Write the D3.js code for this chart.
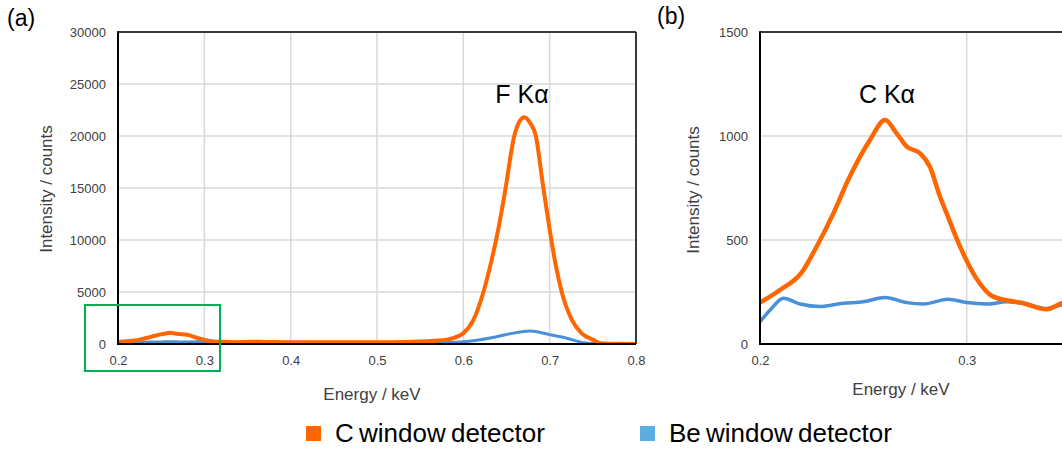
<!DOCTYPE html>
<html>
<head>
<meta charset="utf-8">
<script src="https://cdn.jsdelivr.net/npm/d3@7/dist/d3.min.js"></script>
<style>
  html, body { margin: 0; padding: 0; background: #fff; }
  svg { display: block; font-family: "Liberation Sans", Arial, sans-serif; }
</style>
</head>
<body>
<svg id="chart" width="1062" height="450"></svg>
<script>
// ---- Data ----
const cEnergy = [0.200, 0.210, 0.220, 0.2275, 0.2355, 0.2427, 0.2532, 0.2605, 0.2661, 0.2710, 0.2774, 0.2822, 0.2871, 0.2903, 0.2968, 0.3032, 0.3129, 0.3274, 0.3387, 0.346, 0.355, 0.370, 0.400, 0.430, 0.460, 0.500, 0.530, 0.550, 0.570, 0.581, 0.590, 0.600, 0.6117, 0.6233, 0.6320, 0.6407, 0.6484, 0.6590, 0.6650, 0.6708, 0.6770, 0.6840, 0.6920, 0.7000, 0.7070, 0.7140, 0.7257, 0.7370, 0.7510, 0.7585, 0.770, 0.800];
const cCounts  = [199, 262, 342, 470, 628, 790, 981, 1077, 1013, 949, 917, 852, 708, 628, 468, 340, 228, 196, 167, 196, 215, 200, 170, 175, 160, 165, 190, 240, 330, 420, 620, 1030, 2310, 5000, 7800, 11120, 14700, 20000, 21400, 21800, 21300, 20000, 15400, 11000, 7600, 5000, 2310, 1030, 385, 70, 20, 10];

const beEnergy = [0.200, 0.2056, 0.2113, 0.2194, 0.229, 0.2403, 0.250, 0.2605, 0.271, 0.279, 0.2911, 0.300, 0.3097, 0.3194, 0.329, 0.3387, 0.346, 0.360, 0.400, 0.450, 0.500, 0.550, 0.585, 0.6117, 0.6387, 0.655, 0.6774, 0.700, 0.720, 0.739, 0.750, 0.800];
const beCounts  = [107, 171, 220, 192, 180, 196, 203, 224, 199, 192, 215, 199, 192, 203, 192, 171, 187, 190, 160, 140, 120, 110, 150, 320, 700, 1000, 1250, 900, 550, 130, 50, 20];

const xTicksA = [0.2, 0.3, 0.4, 0.5, 0.6, 0.7, 0.8];
const yTicksA = [0, 5000, 10000, 15000, 20000, 25000, 30000];
const xTicksB = [0.2, 0.3, 0.4];
const yTicksB = [0, 500, 1000, 1500];

const seriesNames = ["C window detector", "Be window detector"];
const lineColors = ["#ff6600", "#4a90d9"];
const legendColors = ["#ff6600", "#5dade2"];

// ---- Drawing ----
const W = 1062;
const svg = d3.select("#chart");
svg.append("rect").attr("width", W).attr("height", 450).attr("fill", "#fff");

function panel(opts) {
  const { x, y, xTicks, yTicks, id, titleX, titleY, xTitleX, xTitleY, lw } = opts;
  const g = svg.append("g");
  const [x0, x1] = x.range();
  const [y0, y1] = y.range(); // y0 bottom, y1 top

  g.append("clipPath").attr("id", id).append("rect")
    .attr("x", x0).attr("y", y1).attr("width", x1 - x0).attr("height", y0 - y1);

  // grid
  g.append("g").selectAll("line").data(xTicks.slice(1)).join("line")
    .attr("x1", d => x(d)).attr("x2", d => x(d)).attr("y1", y1).attr("y2", y0)
    .attr("stroke", "#d9d9d9").attr("stroke-width", 1.5);
  g.append("g").selectAll("line").data(yTicks.slice(1)).join("line")
    .attr("x1", x0).attr("x2", x1).attr("y1", d => y(d)).attr("y2", d => y(d))
    .attr("stroke", "#d9d9d9").attr("stroke-width", 1.5);

  // axes tick labels (only those inside the picture)
  const visibleX = xTicks.filter(d => x(d) < W - 10);
  const ax = g.append("g").attr("transform", `translate(0,${y0})`)
    .call(d3.axisBottom(x).tickValues(visibleX).tickFormat(d3.format(".1f")).tickSize(0).tickPadding(12));
  const ay = g.append("g").attr("transform", `translate(${x0},0)`)
    .call(d3.axisLeft(y).tickValues(yTicks).tickFormat(d3.format("d")).tickSize(0).tickPadding(12));
  [ax, ay].forEach(a => {
    a.select(".domain").remove();
    a.selectAll("text").attr("font-size", 13).attr("fill", "#404040")
      .attr("font-family", "'Liberation Sans', Arial, sans-serif");
  });

  // lines
  const lines = g.append("g").attr("clip-path", `url(#${id})`);
  const mk = (E, C) => d3.line().x((d, i) => x(E[i])).y((d, i) => y(C[i])).curve(d3.curveMonotoneX)(C);
  lines.append("path").attr("d", mk(beEnergy, beCounts)).attr("fill", "none")
    .attr("stroke", lineColors[1]).attr("stroke-width", lw[1]).attr("stroke-linejoin", "round");
  lines.append("path").attr("d", mk(cEnergy, cCounts)).attr("fill", "none")
    .attr("stroke", lineColors[0]).attr("stroke-width", lw[0]).attr("stroke-linejoin", "round");

  // frame
  g.append("line").attr("x1", x0).attr("x2", x1).attr("y1", y1).attr("y2", y1)
    .attr("stroke", "#000").attr("stroke-width", 1.5);
  g.append("line").attr("x1", x1).attr("x2", x1).attr("y1", y1).attr("y2", y0)
    .attr("stroke", "#000").attr("stroke-width", 1.5);
  g.append("line").attr("x1", x0).attr("x2", x1).attr("y1", y0).attr("y2", y0)
    .attr("stroke", "#000").attr("stroke-width", 2);
  g.append("line").attr("x1", x0).attr("x2", x0).attr("y1", y1 - 0.75).attr("y2", y0 + 1)
    .attr("stroke", "#000").attr("stroke-width", 2);

  // titles
  g.append("text").attr("transform", `translate(${titleX},${titleY}) rotate(-90)`)
    .attr("text-anchor", "middle").attr("font-size", 17).attr("fill", "#404040")
    .text("Intensity / counts");
  g.append("text").attr("x", xTitleX).attr("y", xTitleY)
    .attr("text-anchor", "middle").attr("font-size", 17).attr("fill", "#404040")
    .text("Energy / keV");
  return g;
}

const xA = d3.scaleLinear().domain([0.2, 0.8]).range([118, 636]);
const yA = d3.scaleLinear().domain([0, 30000]).range([344, 32]);
const xB = d3.scaleLinear().domain([0.2, 0.4]).range([760, 1173.4]);
const yB = d3.scaleLinear().domain([0, 1500]).range([344, 32]);

panel({ x: xA, y: yA, xTicks: xTicksA, yTicks: yTicksA, id: "clipA",
  titleX: 51.5, titleY: 189, xTitleX: 372, xTitleY: 400, lw: [4, 3] });
panel({ x: xB, y: yB, xTicks: xTicksB, yTicks: yTicksB, id: "clipB",
  titleX: 699, titleY: 190, xTitleX: 901, xTitleY: 395, lw: [4.5, 3.5] });

// panel letters
svg.append("text").attr("x", 7).attr("y", 26).attr("font-size", 23).attr("fill", "#000").text("(a)");
svg.append("text").attr("x", 657).attr("y", 24).attr("font-size", 23).attr("fill", "#000").text("(b)");

// peak annotations
svg.append("text").attr("x", 522).attr("y", 103).attr("text-anchor", "middle")
  .attr("font-size", 25).attr("fill", "#000").text("F Kα");
svg.append("text").attr("x", 887).attr("y", 103).attr("text-anchor", "middle")
  .attr("font-size", 25).attr("fill", "#000").text("C Kα");

// green highlight box in panel (a)
svg.append("rect").attr("x", 85).attr("y", 305).attr("width", 135).attr("height", 66)
  .attr("fill", "none").attr("stroke", "#00b050").attr("stroke-width", 2);

// legend
const legX = [306, 640];
const leg = svg.append("g");
seriesNames.forEach((name, i) => {
  leg.append("rect").attr("x", legX[i]).attr("y", 426).attr("width", 15).attr("height", 15)
    .attr("fill", legendColors[i]);
  leg.append("text").attr("x", legX[i] + 29).attr("y", 442).attr("font-size", 26)
    .attr("word-spacing", -2).attr("fill", "#000").text(name);
});
</script>
</body>
</html>
